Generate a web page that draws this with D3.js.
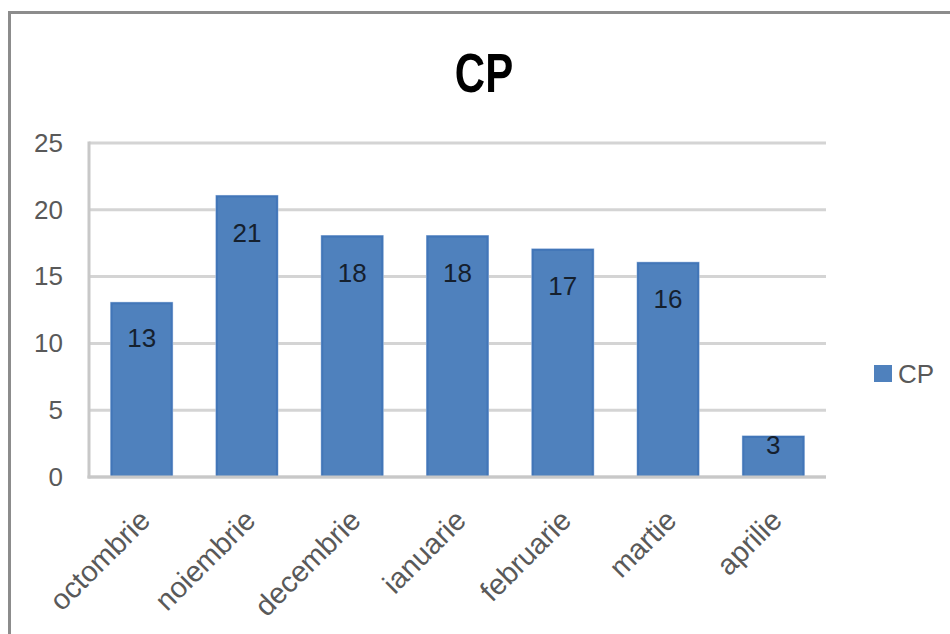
<!DOCTYPE html>
<html>
<head>
<meta charset="utf-8">
<script src="https://cdn.jsdelivr.net/npm/d3@7/dist/d3.min.js"></script>
<style>
  html, body { margin: 0; padding: 0; background: #ffffff; }
  svg { display: block; }
  text { font-family: "Liberation Sans", Arial, sans-serif; }
</style>
</head>
<body>
<svg id="chart" width="950" height="634"></svg>
<script>
// Monthly CP counts
const months = ["octombrie", "noiembrie", "decembrie", "ianuarie", "februarie", "martie", "aprilie"];
const cpValues = [13, 21, 18, 18, 17, 16, 3];
const yTicks = [0, 5, 10, 15, 20, 25];
const seriesName = "CP";
const chartTitle = "CP";

const svg = d3.select("#chart");
const W = 950, H = 634;
const plot = { left: 89, right: 826, top: 143, bottom: 477 };

// Outer chart frame (right and bottom edges run past the canvas)
svg.append("rect")
  .attr("x", 9.5).attr("y", 12.5)
  .attr("width", W + 20).attr("height", H + 20)
  .attr("fill", "#ffffff")
  .attr("stroke", "#8c8c8c").attr("stroke-width", 3);

const x = d3.scaleBand()
  .domain(months)
  .range([plot.left, plot.right])
  .paddingInner(0.43)
  .paddingOuter(0.215);

const y = d3.scaleLinear()
  .domain([0, 25])
  .range([plot.bottom, plot.top]);

// Horizontal gridlines
svg.append("g")
  .selectAll("line")
  .data(yTicks)
  .join("line")
  .attr("x1", plot.left).attr("x2", plot.right)
  .attr("y1", d => y(d)).attr("y2", d => y(d))
  .attr("stroke", "#d4d4d4").attr("stroke-width", 3);

// Value axis line
svg.append("line")
  .attr("x1", plot.left).attr("x2", plot.left)
  .attr("y1", y(25) - 1.5).attr("y2", y(0) + 1.5)
  .attr("stroke", "#c8c8c8").attr("stroke-width", 3);

// Y tick labels
const yAxis = d3.axisLeft(y).tickValues(yTicks).tickSize(0).tickPadding(26);
const yg = svg.append("g").attr("transform", `translate(${plot.left},0)`).call(yAxis);
yg.select(".domain").remove();
yg.selectAll("text")
  .attr("fill", "#595959")
  .attr("font-size", 26)
  .attr("font-family", "Liberation Sans, Arial, sans-serif");

// Bars
const bars = svg.append("g");
bars.selectAll("rect.halo")
  .data(cpValues)
  .join("rect")
  .attr("class", "halo")
  .attr("x", (d, i) => x(months[i]) - 1.5)
  .attr("y", d => y(d) - 1.5)
  .attr("width", x.bandwidth() + 3)
  .attr("height", d => y(0) - y(d) + 1.5)
  .attr("fill", "#a9c1e2");
bars.selectAll("rect.bar")
  .data(cpValues)
  .join("rect")
  .attr("class", "bar")
  .attr("x", (d, i) => x(months[i]))
  .attr("y", d => y(d))
  .attr("width", x.bandwidth())
  .attr("height", d => y(0) - y(d))
  .attr("fill", "#4f81bd")
  .attr("stroke", "#4276b8").attr("stroke-width", 2);

// Category axis line
svg.append("line")
  .attr("x1", plot.left - 1.5).attr("x2", plot.right)
  .attr("y1", y(0)).attr("y2", y(0))
  .attr("stroke", "#c8c8c8").attr("stroke-width", 3);

// Value labels inside the bar tops
svg.append("g")
  .selectAll("text")
  .data(cpValues)
  .join("text")
  .attr("x", (d, i) => x(months[i]) + x.bandwidth() / 2)
  .attr("y", d => {
    const h = y(0) - y(d);
    return y(d) + Math.min(36, h * 0.2);
  })
  .attr("dy", "0.35em")
  .attr("text-anchor", "middle")
  .attr("font-size", 26)
  .attr("fill", "#15202e")
  .text(d => d);

// Rotated category labels
svg.append("g")
  .selectAll("text")
  .data(months)
  .join("text")
  .attr("transform", d => `translate(${x(d) + x.bandwidth() / 2 + 3},515) rotate(-45)`)
  .attr("text-anchor", "end")
  .attr("dy", "0.35em")
  .attr("font-size", 29)
  .attr("fill", "#595959")
  .text(d => d);

// Title
svg.append("text")
  .attr("transform", "translate(484,92) scale(0.75,1)")
  .attr("text-anchor", "middle")
  .attr("font-size", 56)
  .attr("font-weight", "bold")
  .attr("fill", "#000000")
  .text(chartTitle);

// Legend
const legend = svg.append("g").attr("transform", "translate(874,365)");
legend.append("rect")
  .attr("width", 18).attr("height", 17)
  .attr("fill", "#4f81bd");
legend.append("text")
  .attr("x", 24).attr("y", 8.5)
  .attr("dy", "0.35em")
  .attr("font-size", 26)
  .attr("fill", "#595959")
  .text(seriesName);
</script>
</body>
</html>
